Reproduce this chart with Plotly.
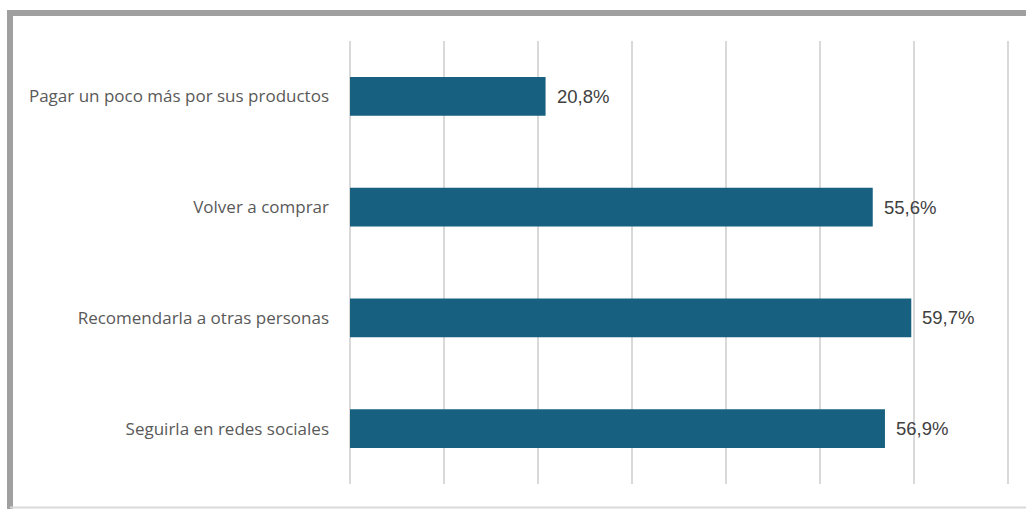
import plotly.graph_objects as go

categories = [
    "Pagar un poco más por sus productos",
    "Volver a comprar",
    "Recomendarla a otras personas",
    "Seguirla en redes sociales",
]
values = [20.8, 55.6, 59.7, 56.9]

BAR = "#17607F"
CAT_FONT = "Open Sans"
VAL_FONT = "Liberation Sans"

W, H = 1026, 509
L, R, T, B = 350, 16, 41, 25
pw, ph = W - L - R, H - T - B


def px_x(p):
    return (p - L) / pw


def px_y(p):
    return (H - B - p) / ph


fig = go.Figure(
    go.Bar(
        x=values,
        y=categories,
        orientation="h",
        marker=dict(color=BAR, line=dict(width=0)),
        hoverinfo="skip",
    )
)

# value labels just to the right of each bar
annotations = [
    dict(
        x=v, y=c, xref="x", yref="y",
        text=f"{v:.1f}%".replace(".", ","),
        showarrow=False, xanchor="left", xshift=9,
        font=dict(family=VAL_FONT, size=18.5, color="#404040"),
    )
    for c, v in zip(categories, values)
]

# outer frame: heavy gray top and left edge, light bottom edge
shapes = [
    dict(type="line", xref="paper", yref="paper",
         x0=px_x(7), x1=px_x(1030), y0=px_y(13), y1=px_y(13),
         line=dict(color="#A0A0A0", width=6)),
    dict(type="line", xref="paper", yref="paper",
         x0=px_x(10), x1=px_x(10), y0=px_y(10), y1=px_y(512),
         line=dict(color="#A0A0A0", width=6)),
    dict(type="line", xref="paper", yref="paper",
         x0=px_x(10), x1=px_x(1030), y0=px_y(507.5), y1=px_y(507.5),
         line=dict(color="#D9D9D9", width=2)),
]

fig.update_layout(
    width=W, height=H,
    margin=dict(l=L, r=R, t=T, b=B),
    paper_bgcolor="white",
    plot_bgcolor="white",
    bargap=0.65,
    showlegend=False,
    shapes=shapes,
    annotations=annotations,
    xaxis=dict(
        # a touch past 70 so the last gridline is drawn
        range=[0, 70.2], tick0=0, dtick=10, showticklabels=False,
        showgrid=True, gridcolor="#D9D9D9", gridwidth=2,
        zeroline=True, zerolinecolor="#D9D9D9", zerolinewidth=2,
        showline=False, fixedrange=True,
    ),
    yaxis=dict(
        autorange="reversed", showgrid=False, showline=False, zeroline=False,
        ticks="", ticklabelstandoff=20,
        tickfont=dict(family=CAT_FONT, size=17, color="#595959"),
        fixedrange=True,
    ),
)

fig.write_html("out.html", config={"displayModeBar": False})
